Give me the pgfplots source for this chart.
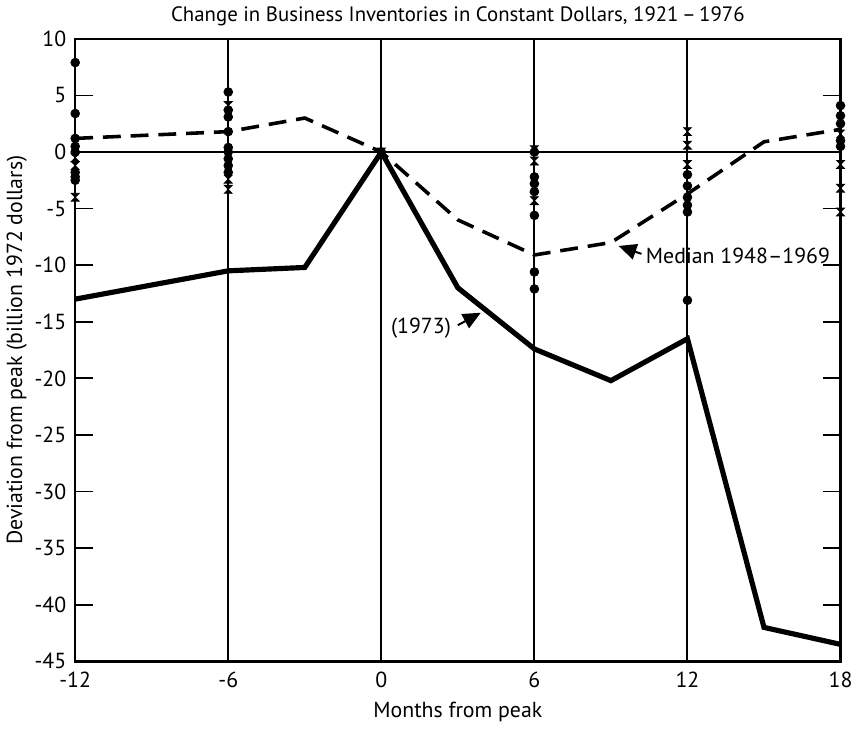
\documentclass[border=0pt]{standalone}
\usepackage{pgfplots}
\pgfplotsset{compat=1.18}
\usepackage{fontspec}
\setmainfont{PT Sans}
\usetikzlibrary{arrows.meta}

% hourglass-shaped mark used for the crosses
\pgfdeclareplotmark{hglass}{%
  \pgfpathmoveto{\pgfpoint{-\pgfplotmarksize}{\pgfplotmarksize}}%
  \pgfpathlineto{\pgfpoint{\pgfplotmarksize}{\pgfplotmarksize}}%
  \pgfpathlineto{\pgfpoint{-\pgfplotmarksize}{-\pgfplotmarksize}}%
  \pgfpathlineto{\pgfpoint{\pgfplotmarksize}{-\pgfplotmarksize}}%
  \pgfpathclose
  \pgfusepathqfillstroke}

\begin{document}
\begin{tikzpicture}
\begin{axis}[
    scale only axis,
    width=386pt,
    height=314pt,
    xmin=-12, xmax=18,
    ymin=-45, ymax=10,
    xtick={-12,-6,0,6,12,18},
    ytick={-45,-40,...,10},
    tick align=inside,
    xtick style={draw=none},
    ytick pos=both,
    yticklabel pos=left,
    major tick length=9pt,
    tick style={line width=0.9pt, black},
    axis line style={line width=1.3pt},
    /pgf/number format/assume math mode=true,
    ticklabel style={font=\fontsize{11}{13}\selectfont},
    xticklabel style={yshift=-2pt},
    yticklabel style={xshift=-1pt},
    xlabel={Months from peak},
    ylabel={Deviation from peak (billion 1972 dollars)},
    label style={font=\fontsize{11}{13}\selectfont},
    xlabel style={yshift=0pt},
    ylabel style={yshift=-3pt},
    title={Change in Business Inventories in Constant Dollars, 1921\,--\,1976},
    title style={font=\fontsize{10.5}{12}\selectfont, yshift=-3pt},
    clip=false,
]
% reference lines
\addplot[black, line width=0.7pt, forget plot] coordinates {(-12,0) (18,0)};
\addplot[black, line width=1pt, forget plot] coordinates {(-6,-45) (-6,10)};
\addplot[black, line width=1pt, forget plot] coordinates {(0,-45) (0,10)};
\addplot[black, line width=1pt, forget plot] coordinates {(6,-45) (6,10)};
\addplot[black, line width=1pt, forget plot] coordinates {(12,-45) (12,10)};

% individual cycles: dots
\addplot[only marks, mark=*, mark size=2.2pt, black] coordinates {
    (-12,7.9) (-12,3.4) (-12,1.2) (-12,0.5) (-12,0) (-12,-1.8) (-12,-2.2) (-12,-2.5)
    (-6,5.3) (-6,3.7) (-6,3.1) (-6,1.8) (-6,0.4) (-6,0) (-6,-0.6) (-6,-1.2) (-6,-1.8)
    (0,0)
    (6,0) (6,-2.2) (6,-2.8) (6,-3.5) (6,-5.6) (6,-10.6) (6,-12.1)
    (12,-2.0) (12,-3.0) (12,-4.0) (12,-4.7) (12,-5.3) (12,-13.1)
    (18,4.1) (18,3.2) (18,2.5) (18,1.0) (18,0.5)
};
% individual cycles: crosses
\addplot[only marks, mark=hglass, mark size=2pt, black] coordinates {
    (-12,-0.5) (-12,-1.2) (-12,-4.0)
    (-6,4.1) (-6,-2.4) (-6,-3.3)
    (0,0)
    (6,0.2) (6,-0.8) (6,-3.2) (6,-4.3)
    (12,1.8) (12,0.6) (12,-1.1)
    (18,1.6) (18,-1.1) (18,-3.2) (18,-5.3)
};

% median 1948-1969
\addplot[black, line width=1.8pt, dash pattern=on 9pt off 5pt] coordinates {
    (-12,1.2) (-6,1.8) (-3,3.0) (0,0) (3,-6) (6,-9.1) (9,-8) (12,-3.7) (15,0.9) (18,2.0)
};
% 1973
\addplot[black, line width=2.6pt] coordinates {
    (-12,-13) (-6,-10.5) (-3,-10.2) (0,0) (3,-12) (6,-17.4) (9,-20.2) (12,-16.5) (15,-42) (18,-43.5)
};

% annotations
\node[anchor=west, font=\fontsize{11}{13}\selectfont] at (axis cs:10.1,-9.2) {Median 1948--1969};
\draw[-{Triangle[length=9pt,width=8pt]}, line width=1pt] (axis cs:10.2,-9.0) -- (axis cs:9.3,-8.3);
\node[anchor=east, font=\fontsize{11}{13}\selectfont] at (axis cs:3.0,-15.6) {(1973)};
\draw[-{Triangle[length=9pt,width=8pt]}, line width=1pt] (axis cs:3.0,-15.3) -- (axis cs:3.9,-14.2);
\end{axis}
\end{tikzpicture}
\end{document}
